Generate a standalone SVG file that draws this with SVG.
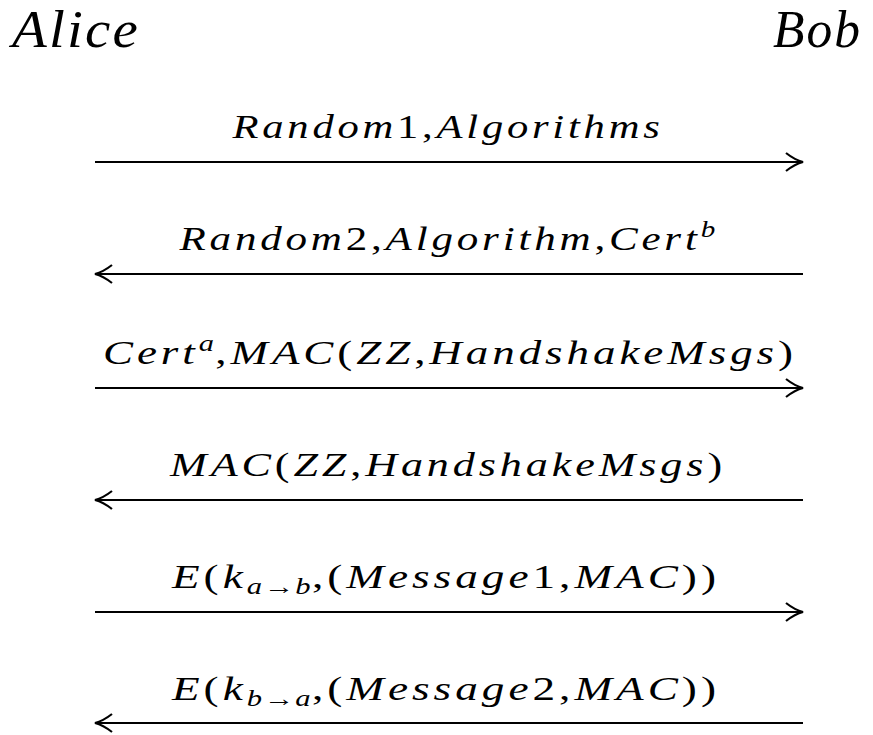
<svg xmlns="http://www.w3.org/2000/svg" width="873" height="735" viewBox="0 0 873 735">
  <style>
    .party { font-family: "Liberation Serif", "DejaVu Serif", serif; font-style: italic; font-size: 52px; letter-spacing: 2px; fill: #000; }
    .lbl { font-family: "Liberation Serif", "DejaVu Serif", serif; font-style: italic; font-size: 34px; letter-spacing: 3px; fill: #000; text-anchor: middle; }
    .up { font-style: normal; }
    .sub { font-size: 23px; letter-spacing: 1px; }
    .msg { stroke: #000; stroke-width: 2.2; fill: none; }
  </style>
  <defs>
    <marker id="head" markerUnits="userSpaceOnUse" markerWidth="26" markerHeight="26" refX="21" refY="13" orient="auto-start-reverse">
      <path d="M4 4 Q13 11 21 13 Q13 15 4 22" fill="none" stroke="#000" stroke-width="2.2"/>
    </marker>
  </defs>
  <rect width="873" height="735" fill="#fff"/>

  <g id="alice"><text class="party" x="12" y="47" textLength="128" lengthAdjust="spacingAndGlyphs">Alice</text></g>
  <g id="bob"><text class="party" x="773" y="47" textLength="89" lengthAdjust="spacingAndGlyphs">Bob</text></g>

  <g id="connectors">
    <line class="msg" x1="95" y1="162" x2="803" y2="162" marker-end="url(#head)"/>
    <line class="msg" x1="95" y1="274" x2="803" y2="274" marker-start="url(#head)"/>
    <line class="msg" x1="95" y1="388" x2="803" y2="388" marker-end="url(#head)"/>
    <line class="msg" x1="95" y1="500" x2="803" y2="500" marker-start="url(#head)"/>
    <line class="msg" x1="95" y1="612" x2="803" y2="612" marker-end="url(#head)"/>
    <line class="msg" x1="95" y1="723" x2="803" y2="723" marker-start="url(#head)"/>
  </g>

  <g id="labels">
    <text class="lbl" x="448" y="138" textLength="431" lengthAdjust="spacingAndGlyphs">Random<tspan class="up">1,</tspan>Algorithms</text>
    <text class="lbl" x="448" y="250" textLength="537" lengthAdjust="spacingAndGlyphs">Random<tspan class="up">2,</tspan>Algorithm<tspan class="up">,</tspan>Cert<tspan class="sub" dy="-13">b</tspan></text>
    <text class="lbl" x="450" y="364" textLength="694" lengthAdjust="spacingAndGlyphs">Cert<tspan class="sub" dy="-13">a</tspan><tspan class="up" dy="13">,</tspan>MAC<tspan class="up">(</tspan>ZZ<tspan class="up">,</tspan>HandshakeMsgs<tspan class="up">)</tspan></text>
    <text class="lbl" x="448" y="476" textLength="556" lengthAdjust="spacingAndGlyphs">MAC<tspan class="up">(</tspan>ZZ<tspan class="up">,</tspan>HandshakeMsgs<tspan class="up">)</tspan></text>
    <text class="lbl" x="446" y="588" textLength="548" lengthAdjust="spacingAndGlyphs">E<tspan class="up">(</tspan>k<tspan class="sub" dy="6">a<tspan class="up">→</tspan>b</tspan><tspan class="up" dy="-6">,(</tspan>Message<tspan class="up">1,</tspan>MAC<tspan class="up">))</tspan></text>
    <text class="lbl" x="446" y="700" textLength="548" lengthAdjust="spacingAndGlyphs">E<tspan class="up">(</tspan>k<tspan class="sub" dy="6">b<tspan class="up">→</tspan>a</tspan><tspan class="up" dy="-6">,(</tspan>Message<tspan class="up">2,</tspan>MAC<tspan class="up">))</tspan></text>
  </g>
</svg>
